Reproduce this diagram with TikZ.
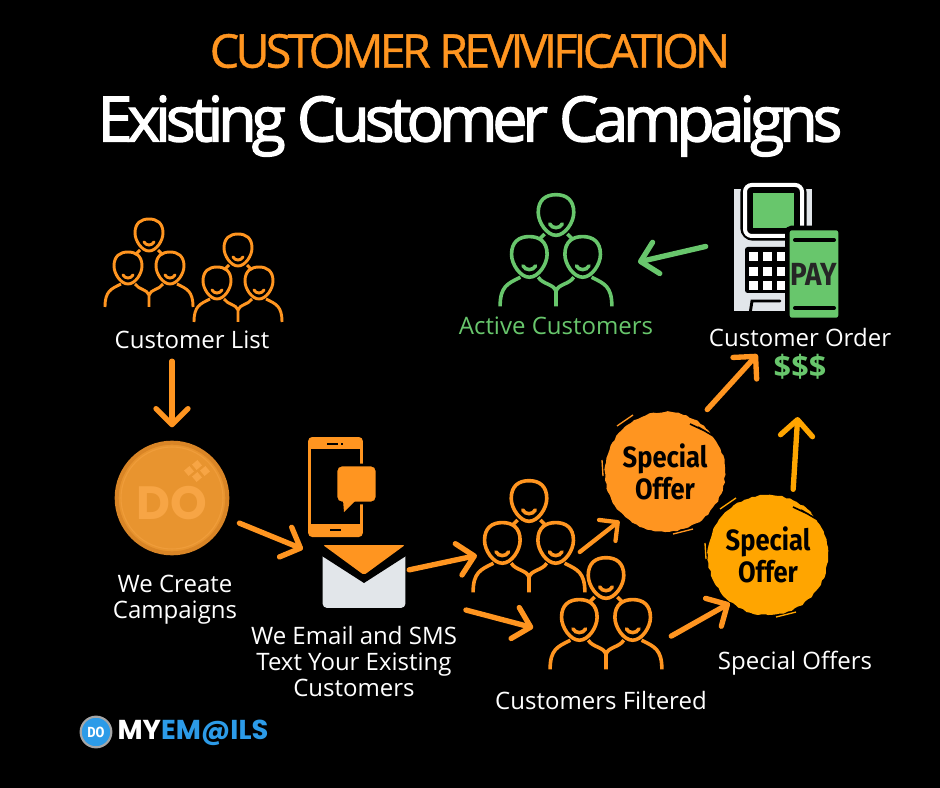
\documentclass[tikz,border=0pt]{standalone}
\usepackage{fontspec}
\setmainfont{Open Sans}
\newfontfamily\headfont[LetterSpace=-8,FakeBold=0.8]{Open Sans}
\newfontfamily\titlefont[LetterSpace=-8.2,FakeBold=2]{Open Sans}
\newfontfamily\offerfont[FakeStretch=0.87]{Fira Sans}
\newfontfamily\logofont{Poppins}
\usepackage{tikz}
\usetikzlibrary{arrows.meta}
\usetikzlibrary{decorations.pathmorphing}

\definecolor{doorange}{HTML}{FF9520}
\definecolor{doamber}{HTML}{FFA500}
\definecolor{dogreen}{HTML}{68C66C}
\definecolor{dogrey}{HTML}{E2E6EA}
\definecolor{docoin}{HTML}{E8942F}
\definecolor{docoinrim}{HTML}{D98526}
\definecolor{docoinfont}{HTML}{F7A545}
\definecolor{doblue}{HTML}{2C9BE8}

\tikzset{
    label text/.style={white, align=center, inner sep=0pt, font=\fontsize{18}{19.5}\selectfont},
    icon box/.style={inner sep=0pt, outer sep=0pt, minimum width=#1, minimum height=#1},
    flow/.style={line width=4pt, line cap=round, doorange,
        -{Straight Barb[length=12pt,width=24pt,round]}},
    small flow/.style={flow, line width=3.2pt,
        -{Straight Barb[length=10pt,width=20pt,round]}},
    offer/.style={circle, fill=#1, inner sep=0pt, minimum size=90pt, align=center,
        decorate, decoration={random steps,segment length=3pt,amplitude=.6pt},
        font=\offerfont\bfseries\fontsize{22}{24}\selectfont},
    pics/crowd/.style={code={
        \foreach \hx/\hy in {0/0,-21/33,21/33} {
            \draw[#1] (\hx-14,\hy-2) .. controls (\hx-14,\hy-12) and (\hx-8,\hy-16) .. (\hx,\hy-16)
                .. controls (\hx+8,\hy-16) and (\hx+14,\hy-12) .. (\hx+14,\hy-2)
                .. controls (\hx+14,\hy+6) and (\hx+7,\hy+16) .. (\hx,\hy+16)
                .. controls (\hx-7,\hy+16) and (\hx-14,\hy+6) .. (\hx-14,\hy-2) -- cycle;
            \draw[#1, line cap=round] (\hx-5,\hy+7) .. controls (\hx-3,\hy+11) and (\hx+3,\hy+11) .. (\hx+5,\hy+7);
        }
        \draw[#1] (-9,15) -- (-13,19) (9,15) -- (13,19);
        \draw[#1] (-44,72) .. controls (-44,56) and (-38,54) .. (-28,49);
        \draw[#1] (44,72) .. controls (44,56) and (38,54) .. (28,49);
        \draw[#1] (-14,49) .. controls (-10,55) and (-2,54) .. (0,60) -- (0,72);
        \draw[#1] (14,49) .. controls (10,55) and (2,54) .. (0,60);
    }},
    pics/scratch/.style={code={
        \draw[black, line width=1.2pt] (25,-48) -- (40,-41) (33,-45) -- (50,-35) (44,-42) -- (54,-31);
        \draw[black, line width=2pt] (50,-37) -- (60,-26) (57,-31) -- (62,-17);
        \draw[#1, line width=1pt] (-48,-46) -- (-32,-57) (8,62) -- (28,57) (-63,-12) -- (-62,4);
    }},
}

\begin{document}
\begin{tikzpicture}[x=0.75pt,y=-0.75pt]
    \useasboundingbox (0,0) rectangle (940,788);
    \fill[black] (0,0) rectangle (940,788);

    % titles
    \node[doorange, font=\headfont\fontsize{35}{36}\selectfont] (heading) at (470,51) {CUSTOMER REVIVIFICATION};
    \node[white, font=\titlefont\fontsize{47}{48}\selectfont] (title) at (470,126) {Existing Customer Campaigns};

    % customer list
    \pic at (149,235) {crowd={doorange,line width=2.2pt}};
    \pic at (238,250) {crowd={doorange,line width=2.2pt}};
    \node[label text] (list) at (192,340) {Customer List};

    % coin
    \node[circle, fill=docoin, draw=docoinrim, line width=3pt, minimum size=83pt] (coin) at (172,498) {};
    \draw[docoinfont, opacity=.5, line width=.8pt] (coin) circle (51);
    \foreach \gx/\gy in {189/471,197/465,197/477,205/471} {
        \fill[docoinfont, rotate around={40:(\gx,\gy)}] (\gx-3.5,\gy-3.5) rectangle (\gx+3.5,\gy+3.5);
    }
    \node[docoinfont, font=\logofont\bfseries\fontsize{35}{35}\selectfont, inner sep=0pt] (coinname) at (172,503) {DO};
    \node[label text] (create) at (175,600) {We Create\\Campaigns};

    % phone
    \node[fill=doorange, rounded corners=3pt, icon box=41pt, minimum height=75pt] (phone) at (335.5,487) {};
    \fill[black] (311,449) rectangle (360,524);
    \draw[black, line width=1pt] (327,444) -- (338,444) (341,444) -- (343,444) (330,530) -- (341,530);
    \draw[fill=doorange, draw=black, line width=2.2pt, rounded corners=4pt] (336,465) -- (377,465) -- (377,503) -- (336,503) -- cycle;
    \fill[doorange] (343,500) -- (344,512) -- (356,500) -- cycle;

    % envelope
    \node[fill=dogrey, rounded corners=3pt, icon box=47pt, minimum width=62pt] (envelope) at (364,576.5) {};
    \fill[black] (322,544) -- (406,544) -- (406,556) -- (364,583) -- (322,556) -- cycle;
    \fill[doorange, rounded corners=1.5pt] (323,545) -- (405,545) -- (364,575) -- cycle;
    \node[label text] (email) at (354,661) {We Email and SMS\\Text Your Existing\\Customers};

    % filtered customers
    \node[icon box=84pt] (crowda) at (529,537) {};
    \pic[scale=1.27] at (529,501) {crowd={doorange,line width=2.7pt}};
    \node[icon box=84pt] (crowdb) at (606,614) {};
    \pic[scale=1.27] at (606,578) {crowd={doorange,line width=2.7pt}};
    \node[label text] (filtered) at (601,700) {Customers Filtered};

    % offers
    \node[offer=doorange] (offera) at (665,472) {Special\\Offer};
    \pic at (offera) {scratch=doorange};
    \node[offer=doamber] (offerb) at (768,555) {Special\\Offer};
    \pic at (offerb) {scratch=doamber};
    \node[label text] (offers) at (795,663) {Special Offers};

    % terminal
    \node[fill=dogrey, draw=black, line width=3pt, icon box=94pt, minimum width=62pt] (terminal) at (773,250) {};
    \draw[black, line width=7pt, rounded corners=6pt] (745,185) -- (802,185) -- (802,236) -- (745,236) -- cycle;
    \draw[white, fill=black, line width=3pt, rounded corners=5pt] (745,185) -- (802,185) -- (802,236) -- (745,236) -- cycle;
    \fill[dogreen] (753,193) rectangle (794,228);
    \fill[black, rounded corners=2pt] (745,247) rectangle (790,293);
    \foreach \kx in {749,763,777} {
        \foreach \ky in {252,267,281} {
            \fill[white] (\kx,\ky) rectangle (\kx+9,\ky+9);
        }
    }
    \draw[black, line width=2.2pt, line cap=round] (750,314) -- (752,301) -- (780,301);
    \node[fill=dogreen, draw=black, line width=3.4pt, rounded corners=3pt, icon box=69pt, minimum width=40pt,
        font=\offerfont\bfseries\fontsize{24}{24}\selectfont, text=black!85] (pay) at (814,274) {PAY};
    \draw[black, line width=3pt, line cap=round] (795,240) -- (834,240) (795,308) -- (834,308);
    \node[label text] (order) at (800,337) {Customer Order};
    \node[dogreen, inner sep=0pt, font=\bfseries\fontsize{23}{23}\selectfont] (dollars) at (800,367) {\$\$\$};

    % active customers
    \node[icon box=84pt] (active) at (556,251) {};
    \pic[scale=1.27] at (556,215) {crowd={dogreen,line width=2.7pt}};
    \node[label text, text=dogreen] (activename) at (556,326) {Active Customers};

    % logo
    \node[circle, fill=doblue, draw=gray!70, line width=1.6pt, minimum size=23pt, inner sep=0pt, text=white,
        font=\offerfont\bfseries\fontsize{11}{11}\selectfont] (logocoin) at (96,732) {DO};
    \node[white, inner sep=0pt, font=\logofont\bfseries\fontsize{20.5}{21}\selectfont] (logoname) at (193,733) {MY\textcolor{doblue}{EM@ILS}};

    % connectors
    \draw[flow, shorten <=9pt, shorten >=10pt] (coin.north |- list.south) -- (coin.north);
    \draw[flow, shorten <=11pt, shorten >=16pt] (coin.-20) -- (envelope.155);
    \draw[flow, shorten <=3pt, shorten >=-3pt] (envelope.8) -- (crowda.199.5);
    \draw[flow, shorten <=47pt, shorten >=13pt] (envelope.337.5) -- (crowdb.198.4);
    \draw[small flow, shorten <=-5pt, shorten >=5pt] (crowda.349) -- (offera.228);
    \draw[flow, shorten <=8pt, shorten >=1pt] (crowdb.334.3) -- (offerb.232.6);
    \draw[flow, shorten <=11.5pt, shorten >=8pt] (offera.58.4) -- (order.195.3);
    \draw[flow, doamber, shorten <=8pt, shorten >=28pt] (offerb.66.6) -- (dollars.south);
    \draw[flow, dogreen, shorten <=20pt, shorten >=20pt] (terminal.167.6) -- (active.343);
\end{tikzpicture}
\end{document}
